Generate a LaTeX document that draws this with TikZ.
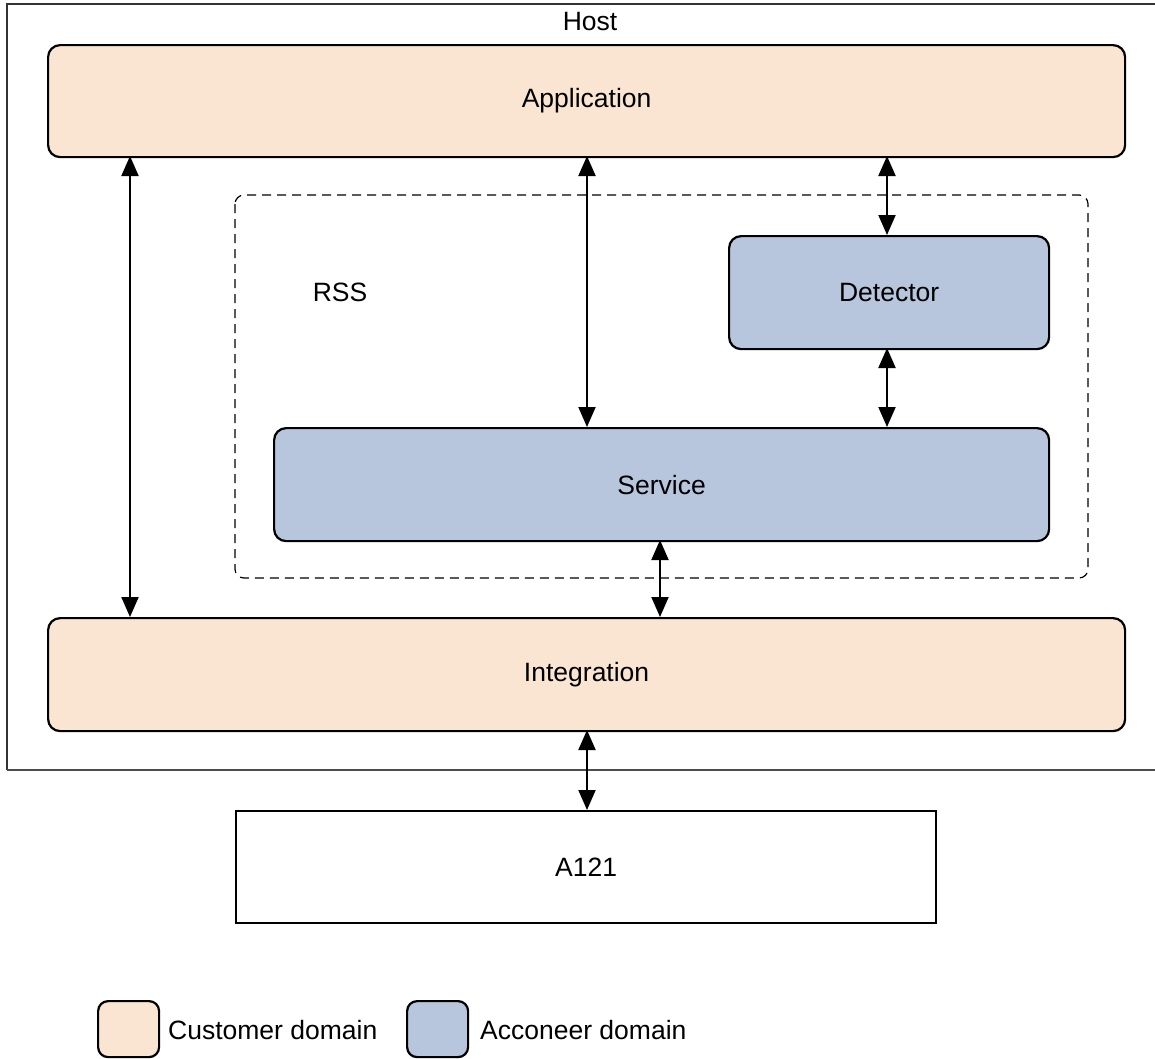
\documentclass[tikz,border=0pt]{standalone}
\usepackage{fontspec}
\setmainfont{Liberation Sans}
\usetikzlibrary{arrows.meta}
\definecolor{cust}{RGB}{250,229,211}
\definecolor{acc}{RGB}{183,198,221}
\tikzset{
  blk/.style={draw=black, line width=2.2pt, rounded corners=12pt},
  custbox/.style={blk, fill=cust},
  accbox/.style={blk, fill=acc},
  lbl/.style={font=\fontsize{26.5}{31}\selectfont, inner sep=0pt},
  conn/.style={line width=2pt, {Triangle[length=20pt,width=17pt]}-{Triangle[length=20pt,width=17pt]}},
}
\begin{document}
\begin{tikzpicture}[x=1pt,y=-1pt]
\useasboundingbox (0,0) rectangle (1155,1058);
% Host
\draw[line width=1.5pt, draw=black!80] (7,770) -- (7,4) -- (1170,4);
\draw[line width=1.5pt, draw=black!70] (7,770) -- (1170,770);
\node[lbl] (host) at (590,22) {Host};
% RSS
\draw[dashed, dash pattern=on 9pt off 6pt, line width=1.2pt, rounded corners=9pt] (235,195) rectangle (1088,578);
\node[lbl] (rss) at (340,292) {RSS};
% Blocks
\node[custbox, minimum width=1077pt, minimum height=112pt, anchor=north west] (app) at (47,44) {};
\node[lbl] at (app.center) {Application};
\node[accbox, minimum width=320pt, minimum height=113pt, anchor=north west] (det) at (728,235) {};
\node[lbl] at (det.center) {Detector};
\node[accbox, minimum width=775pt, minimum height=113pt, anchor=north west] (srv) at (273,427) {};
\node[lbl] at (srv.center) {Service};
\node[custbox, minimum width=1077pt, minimum height=113pt, anchor=north west] (int) at (47,617) {};
\node[lbl] at (int.center) {Integration};
\node[draw=black, line width=2.2pt, minimum width=700pt, minimum height=112pt, anchor=north west] (a121) at (235,810) {};
\node[lbl] at (a121.center) {A121};
% Connectors
\coordinate (a1) at (130,156); \coordinate (i1) at (130,617);
\coordinate (a2) at (587,156); \coordinate (s2) at (587,427);
\coordinate (a3) at (887,156); \coordinate (d3) at (887,235);
\coordinate (d4) at (887,348); \coordinate (s4) at (887,427);
\coordinate (s5) at (660,540); \coordinate (i5) at (660,617);
\coordinate (i6) at (587,730); \coordinate (c6) at (587,810);
\draw[conn] (a1) -- (i1);
\draw[conn] (a2) -- (s2);
\draw[conn] (a3) -- (d3);
\draw[conn] (d4) -- (s4);
\draw[conn] (s5) -- (i5);
\draw[conn] (i6) -- (c6);
% Legend
\node[custbox, rounded corners=10pt, minimum width=61pt, minimum height=56pt, anchor=north west] (lg1) at (97,1000) {};
\node[lbl, anchor=west] (lt1) at (168,1030) {Customer domain};
\node[accbox, rounded corners=10pt, minimum width=61pt, minimum height=56pt, anchor=north west] (lg2) at (406,1000) {};
\node[lbl, anchor=west] (lt2) at (480,1030) {Acconeer domain};
\end{tikzpicture}
\end{document}
